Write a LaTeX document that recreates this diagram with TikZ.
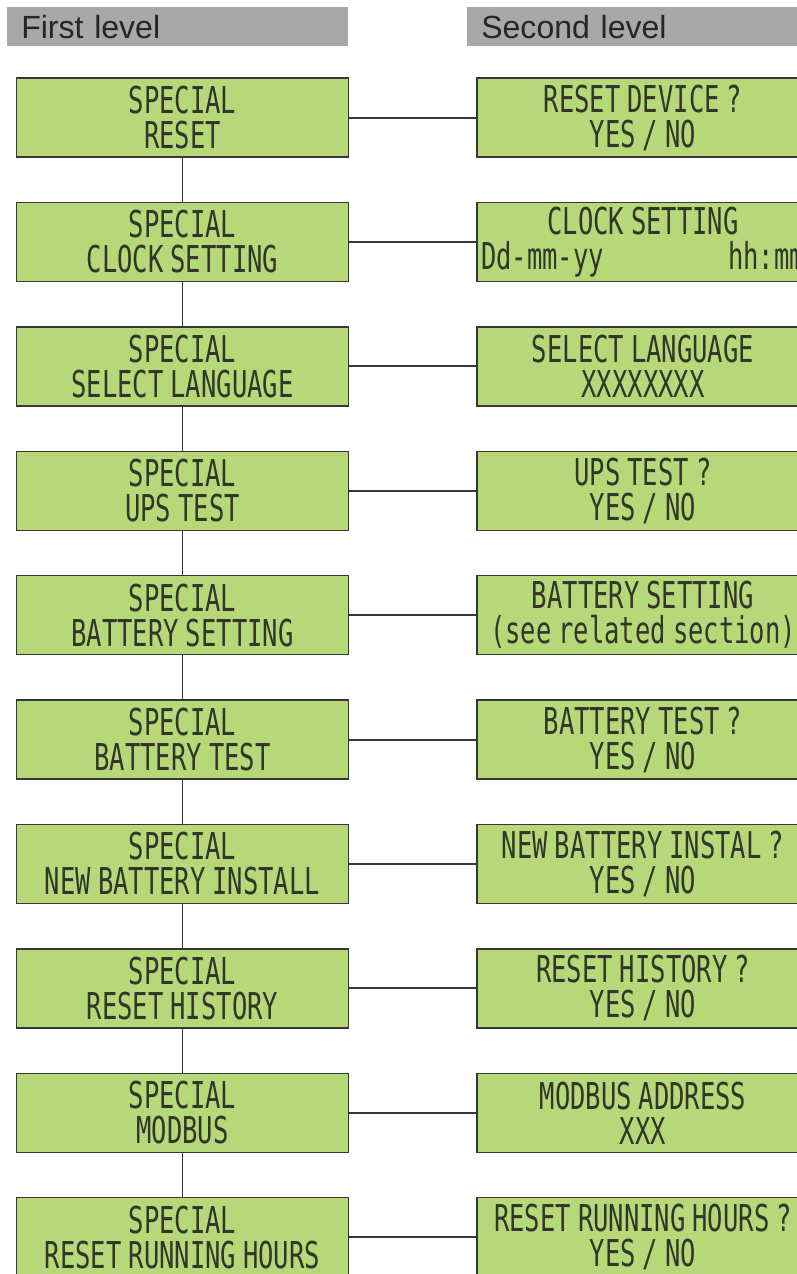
\documentclass[tikz,border=0pt]{standalone}
\usepackage{fontspec}
\setmainfont{Liberation Sans}
\newfontfamily\lcdfont[FakeStretch=0.69]{DejaVu Sans Mono}
\newcommand\lcdtype{\lcdfont\fontsize{26.3}{24.9}\selectfont}
\newcommand\lcdgap{\spaceskip=5pt\relax\xspaceskip=5pt\relax}
\usepackage{xcolor}
\usepackage{tikz}

\definecolor{lcdgreen}{RGB}{183,216,120}
\definecolor{hdrgray}{RGB}{168,168,168}
\definecolor{lcdink}{RGB}{48,54,40}
\definecolor{edgegray}{RGB}{55,55,55}

\begin{document}
\begin{tikzpicture}[
    hdr/.style={fill=hdrgray, anchor=north west, minimum height=0.975cm, inner xsep=0.35cm, align=left, font=\fontsize{22.8}{24}\selectfont, text=black!85},
    lcd/.style={draw=edgegray, line width=1.1pt, fill=lcdgreen, minimum width=8.3cm, minimum height=1.975cm, inner xsep=0.1cm, inner ysep=0pt, text width=8.1cm, align=center, font=\lcdtype, execute at begin node=\lcdgap, text=lcdink},
    link/.style={draw=edgegray, line width=1.3pt}
]
\useasboundingbox (0,0) rectangle (19.925,-31.85);

\node[hdr, minimum width=8.525cm, text width=7.825cm] (lvl1) at (0.175,-0.175) {First level};
\node[hdr, minimum width=8.4cm, text width=7.7cm] (lvl2) at (11.675,-0.175) {Second level};

\node[lcd] (reset) at (4.5625,-2.94) {SPECIAL\\RESET};
\node[lcd] (clock) at (4.5625,-6.05) {SPECIAL\\CLOCK SETTING};
\node[lcd] (lang) at (4.5625,-9.16) {SPECIAL\\SELECT LANGUAGE};
\node[lcd] (ups) at (4.5625,-12.27) {SPECIAL\\UPS TEST};
\node[lcd] (batset) at (4.5625,-15.38) {SPECIAL\\BATTERY SETTING};
\node[lcd] (battest) at (4.5625,-18.49) {SPECIAL\\BATTERY TEST};
\node[lcd] (newbat) at (4.5625,-21.60) {SPECIAL\\NEW BATTERY INSTALL};
\node[lcd] (hist) at (4.5625,-24.71) {SPECIAL\\RESET HISTORY};
\node[lcd] (modbus) at (4.5625,-27.82) {SPECIAL\\MODBUS};
\node[lcd] (hours) at (4.5625,-30.93) {SPECIAL\\RESET RUNNING HOURS};

\node[lcd] (resetq) at (16.075,-2.94) {RESET DEVICE ?\\YES / NO};
\node[lcd] (clockset) at (16.075,-6.05) {CLOCK SETTING\\Dd-mm-yy\hfill hh:mm};
\node[lcd] (langsel) at (16.075,-9.16) {SELECT LANGUAGE\\XXXXXXXX};
\node[lcd] (upsq) at (16.075,-12.27) {UPS TEST ?\\YES / NO};
\node[lcd] (batsetq) at (16.075,-15.38) {BATTERY SETTING\\(see related section)};
\node[lcd] (battestq) at (16.075,-18.49) {BATTERY TEST ?\\YES / NO};
\node[lcd] (newbatq) at (16.075,-21.60) {NEW BATTERY INSTAL ?\\YES / NO};
\node[lcd] (histq) at (16.075,-24.71) {RESET HISTORY ?\\YES / NO};
\node[lcd] (modbusq) at (16.075,-27.82) {MODBUS ADDRESS\\XXX};
\node[lcd] (hoursq) at (16.075,-30.93) {RESET RUNNING HOURS ?\\YES / NO};

% first level chain
\draw[link] (reset) -- (clock);
\draw[link] (clock) -- (lang);
\draw[link] (lang) -- (ups);
\draw[link] (ups) -- (batset);
\draw[link] (batset) -- (battest);
\draw[link] (battest) -- (newbat);
\draw[link] (newbat) -- (hist);
\draw[link] (hist) -- (modbus);
\draw[link] (modbus) -- (hours);

% first to second level
\draw[link] (reset) -- (resetq);
\draw[link] (clock) -- (clockset);
\draw[link] (lang) -- (langsel);
\draw[link] (ups) -- (upsq);
\draw[link] (batset) -- (batsetq);
\draw[link] (battest) -- (battestq);
\draw[link] (newbat) -- (newbatq);
\draw[link] (hist) -- (histq);
\draw[link] (modbus) -- (modbusq);
\draw[link] (hours) -- (hoursq);
\end{tikzpicture}
\end{document}
